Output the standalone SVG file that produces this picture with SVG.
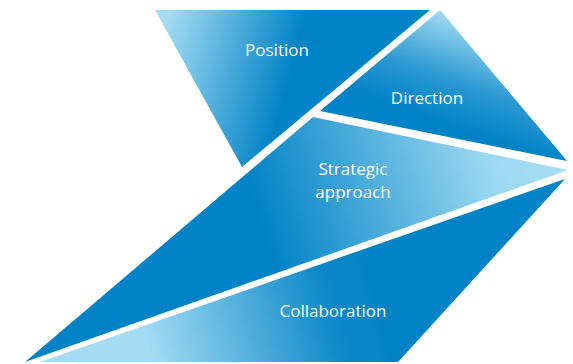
<svg xmlns="http://www.w3.org/2000/svg" width="573" height="364" viewBox="0 0 573 364">
<defs>
<linearGradient id="gPos" gradientUnits="userSpaceOnUse" x1="165" y1="25" x2="295" y2="60">
<stop offset="0" stop-color="#a3dcf3"/><stop offset="1" stop-color="#0082c6"/>
</linearGradient>
<linearGradient id="gDir" gradientUnits="userSpaceOnUse" x1="455" y1="15" x2="420" y2="115">
<stop offset="0" stop-color="#a3dcf3"/><stop offset="0.6" stop-color="#2a98d3"/><stop offset="1" stop-color="#0082c6"/>
</linearGradient>
<linearGradient id="gStr" gradientUnits="userSpaceOnUse" x1="530" y1="165" x2="270" y2="250">
<stop offset="0" stop-color="#a3dcf3"/><stop offset="0.15" stop-color="#9ad8f1"/><stop offset="1" stop-color="#0082c6"/>
</linearGradient>
<linearGradient id="gCol" gradientUnits="userSpaceOnUse" x1="150" y1="355" x2="390" y2="290">
<stop offset="0" stop-color="#a3dcf3"/><stop offset="0.75" stop-color="#0d88c9"/><stop offset="1" stop-color="#0082c6"/>
</linearGradient>
<style>
text{font-family:"Open Sans","Liberation Sans",sans-serif;font-size:17px;fill:#ffffff;text-anchor:middle}
</style>
</defs>
<g id="position">
<polygon points="155,10 430,10 242,167" fill="url(#gPos)"/>
<text x="277" y="56">Position</text>
</g>
<g id="direction">
<polygon points="440,10 567,161 320,111" fill="url(#gDir)"/>
<text x="427" y="104">Direction</text>
</g>
<g id="strategic">
<polygon points="313,117 568,170 25,362" fill="url(#gStr)"/>
<text x="353" y="175">Strategic</text>
<text x="353" y="198">approach</text>
</g>
<g id="collaboration">
<polygon points="565,179 398,362 40,362" fill="url(#gCol)"/>
<text x="333" y="317">Collaboration</text>
</g>
<g id="connectors"/>
</svg>
